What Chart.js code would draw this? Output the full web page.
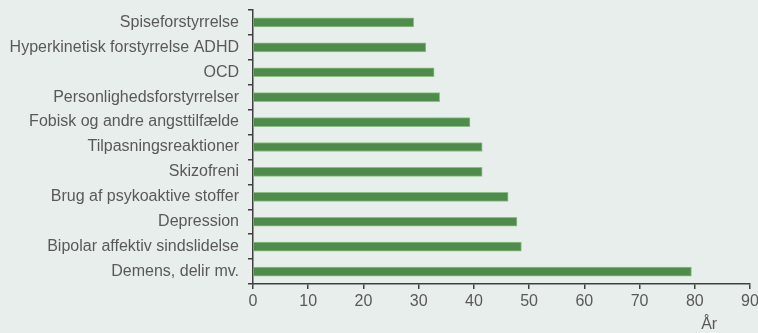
<!DOCTYPE html>
<html>
<head>
<meta charset="utf-8">
<script src="https://cdn.jsdelivr.net/npm/chart.js@4/dist/chart.umd.min.js"></script>
<style>
  html, body { margin: 0; padding: 0; background: #e8eeec; }
  #wrap { width: 758px; height: 333px; position: relative; }
</style>
</head>
<body>
<div id="wrap"><canvas id="chart"></canvas></div>
<script>
// Diagnosis categories and average age (År)
var diagnoses = [
  "Spiseforstyrrelse",
  "Hyperkinetisk forstyrrelse ADHD",
  "OCD",
  "Personlighedsforstyrrelser",
  "Fobisk og andre angsttilfælde",
  "Tilpasningsreaktioner",
  "Skizofreni",
  "Brug af psykoaktive stoffer",
  "Depression",
  "Bipolar affektiv sindslidelse",
  "Demens, delir mv."
];
var ages = [29.1, 31.3, 32.8, 33.8, 39.3, 41.5, 41.5, 46.2, 47.8, 48.6, 79.4];
var xTicks = [0, 10, 20, 30, 40, 50, 60, 70, 80, 90];
var unitLabel = "År";

var textColor = "#595959";
var axisColor = "#404040";
var fontFamily = "'Liberation Sans', Arial, sans-serif";

// draws the unit label under the x axis, a bit left of the end
var unitPlugin = {
  id: 'unitLabel',
  afterDraw: function(chart) {
    var ctx = chart.ctx;
    var x = chart.scales.x;
    ctx.save();
    ctx.font = "16px " + fontFamily;
    ctx.fillStyle = textColor;
    ctx.textAlign = 'center';
    ctx.textBaseline = 'middle';
    ctx.fillText(unitLabel, x.getPixelForValue(82.6), 325);
    ctx.restore();
  }
};

var ctx = document.getElementById('chart');
var chart = new Chart(ctx, {
  type: 'bar',
  data: {
    labels: diagnoses,
    datasets: [{
      data: ages,
      backgroundColor: "#4f8c4b",
      borderColor: "#8cbf88",
      borderWidth: 1,
      borderSkipped: 'start',
      barThickness: 9
    }]
  },
  options: {
    indexAxis: 'y',
    responsive: true,
    maintainAspectRatio: false,
    animation: false,
    layout: { padding: { top: 10, right: 8, bottom: 0, left: 0 } },
    plugins: {
      legend: { display: false },
      tooltip: { enabled: false }
    },
    scales: {
      x: {
        min: 0,
        max: 90,
        afterBuildTicks: function(scale) {
          scale.ticks = xTicks.map(function(v) { return { value: v }; });
        },
        afterFit: function(scale) {
          scale.height = 49;
          scale.paddingLeft = 0;
          scale.paddingRight = 0;
        },
        border: { display: true, color: axisColor, width: 1.5 },
        grid: { drawOnChartArea: false, drawTicks: true, tickLength: 5, color: axisColor, lineWidth: 1.5 },
        ticks: {
          color: textColor,
          font: { family: fontFamily, size: 16 },
          padding: 3,
          maxRotation: 0
        }
      },
      y: {
        afterFit: function(scale) {
          scale.width = 253;
          scale.paddingTop = 0;
          scale.paddingBottom = 0;
        },
        border: { display: true, color: axisColor, width: 1.5 },
        grid: { drawOnChartArea: false, drawTicks: true, tickLength: 5, color: axisColor, lineWidth: 1.5, offset: true },
        ticks: {
          color: textColor,
          font: { family: fontFamily, size: 16 },
          padding: 9,
          autoSkip: false
        }
      }
    }
  },
  plugins: [unitPlugin]
});
</script>
</body>
</html>
